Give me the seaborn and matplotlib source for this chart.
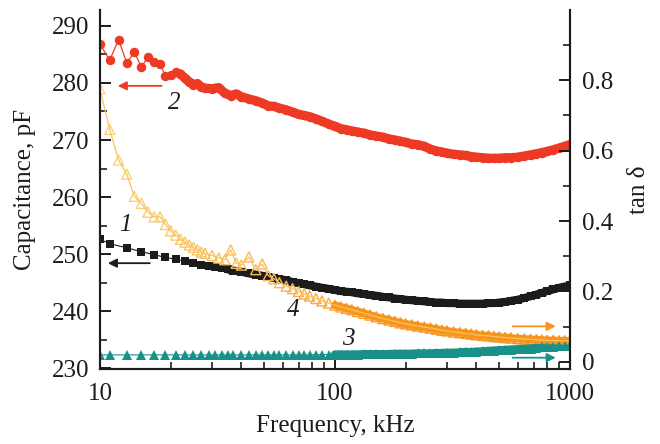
import numpy as np
import pandas as pd
import seaborn as sns
import matplotlib
matplotlib.use("Agg")
import matplotlib.pyplot as plt
from matplotlib.colors import LinearSegmentedColormap
from matplotlib.ticker import MultipleLocator, FixedLocator, NullFormatter

# ---------------- data ----------------
# frequency grid for curves 1 and 3 (kHz)
freq_a = [10, 11, 13, 15, 17, 19, 21, 23, 25, 27, 29, 31, 33, 35, 37, 40, 43, 46, 49,
          52, 55, 58, 62, 66, 70, 74, 78, 83, 88, 94, 100,
          106, 112, 118, 125, 133, 141, 150, 160, 170, 180, 190, 200, 212, 225, 240,
          255, 270, 285, 300, 320, 340, 360, 380, 400, 425, 450, 475, 500, 530, 560,
          600, 640, 680, 720, 760, 800, 850, 900, 950, 1000]
# curve 1: capacitance, pF (black squares)
cap_1 = [252.6, 251.8, 251.1, 250.4, 249.9, 249.4, 249.1, 248.7, 248.4, 248.1, 247.9,
         247.7, 247.5, 247.3, 247.1, 246.9, 246.6, 246.4, 246.2, 246.0, 245.8, 245.6,
         245.4, 245.1, 244.9, 244.7, 244.5, 244.3, 244.1, 243.9, 243.7,
         243.5, 243.4, 243.3, 243.1, 243.0, 242.8, 242.7, 242.5, 242.4, 242.2, 242.1,
         242.0, 241.9, 241.8, 241.7, 241.6, 241.5, 241.5, 241.4, 241.4, 241.3, 241.3,
         241.3, 241.3, 241.3, 241.4, 241.4, 241.5, 241.6, 241.8, 242.0, 242.3, 242.6,
         242.9, 243.2, 243.5, 243.8, 244.1, 244.3, 244.5]
# curve 3: tan delta (teal triangles)
tan_3 = [0.020, 0.020, 0.020, 0.020, 0.020, 0.020, 0.020, 0.020, 0.020, 0.020, 0.020,
         0.020, 0.020, 0.020, 0.020, 0.020, 0.020, 0.020, 0.020, 0.020, 0.020, 0.020,
         0.020, 0.020, 0.020, 0.020, 0.020, 0.020, 0.021, 0.021, 0.021,
         0.021, 0.021, 0.021, 0.021, 0.022, 0.022, 0.022, 0.022, 0.022, 0.023, 0.023,
         0.023, 0.023, 0.024, 0.024, 0.024, 0.025, 0.025, 0.026, 0.026, 0.027, 0.028,
         0.028, 0.029, 0.030, 0.031, 0.032, 0.033, 0.034, 0.035, 0.036, 0.037, 0.038,
         0.039, 0.041, 0.042, 0.043, 0.045, 0.046, 0.047]

# frequency grid for curves 2 and 4 (kHz)
freq_b = [10, 11, 12, 13, 14, 15, 16, 17, 18, 19, 20, 21, 22, 23, 24, 25, 26, 27, 28,
          30, 32, 34, 36, 38, 40, 43, 46, 49, 52, 55, 58, 62, 66, 70, 74, 78, 83, 88,
          94, 100,
          106, 112, 118, 125, 133, 141, 150, 160, 170, 180, 190, 200, 212, 225, 240,
          255, 270, 285, 300, 320, 340, 360, 380, 400, 425, 450, 475, 500, 530, 560,
          600, 640, 680, 720, 760, 800, 850, 900, 950, 1000]
# curve 2: capacitance, pF (red circles)
cap_2 = [286.8, 284.0, 287.6, 283.5, 285.4, 282.8, 284.5, 283.6, 283.3, 281.2, 281.4,
         281.9, 281.6, 280.8, 280.2, 279.7, 279.9, 279.3, 279.1, 279.0, 279.2, 278.2,
         277.8, 278.1, 277.6, 277.2, 276.9, 276.5, 276.0, 275.9, 275.6, 275.3, 274.9,
         274.5, 274.3, 274.1, 273.7, 273.3, 272.8, 272.4,
         272.0, 271.8, 271.6, 271.4, 271.2, 270.9, 270.7, 270.5, 270.2, 270.0, 269.8,
         269.6, 269.3, 269.2, 268.9, 268.4, 268.1, 267.9, 267.7, 267.5, 267.4, 267.3,
         267.1, 267.0, 266.9, 266.8, 266.8, 266.8, 266.9, 266.9, 267.0, 267.2, 267.4,
         267.6, 267.8, 268.0, 268.3, 268.6, 268.9, 269.2]
# curve 4: tan delta (orange open triangles)
tan_4 = [0.775, 0.660, 0.573, 0.533, 0.470, 0.450, 0.425, 0.412, 0.412, 0.390, 0.372,
         0.360, 0.348, 0.340, 0.332, 0.325, 0.318, 0.312, 0.308, 0.302, 0.295, 0.290,
         0.318, 0.280, 0.275, 0.298, 0.262, 0.278, 0.245, 0.236, 0.225, 0.215, 0.208,
         0.200, 0.193, 0.187, 0.180, 0.173, 0.167, 0.161,
         0.156, 0.152, 0.148, 0.143, 0.138, 0.133, 0.128, 0.123, 0.119, 0.115, 0.111,
         0.108, 0.105, 0.102, 0.099, 0.096, 0.093, 0.090, 0.088, 0.085, 0.083, 0.081,
         0.079, 0.077, 0.075, 0.074, 0.072, 0.071, 0.069, 0.068, 0.066, 0.065, 0.064,
         0.063, 0.062, 0.061, 0.061, 0.060, 0.060, 0.060]

curve_labels = ["1", "2", "3", "4"]
x_ticks = [10, 100, 1000]
x_ticklabels = ["10", "100", "1000"]
left_ticks = [230, 240, 250, 260, 270, 280, 290]
right_ticks = [0, 0.2, 0.4, 0.6, 0.8]
right_ticklabels = ["0", "0.2", "0.4", "0.6", "0.8"]

# ---------------- styling ----------------
BLACK = "#1c1c1c"
RED = "#ee3a24"
TEAL = "#17918a"
ORANGE = "#f7941d"
FS = 18

sns.set_style("ticks")
plt.rcParams["font.family"] = ["Liberation Serif", "DejaVu Serif"]
plt.rcParams["axes.linewidth"] = 1.5

df_a = pd.DataFrame({"f": freq_a, "cap": cap_1, "tan": tan_3})
df_b = pd.DataFrame({"f": freq_b, "cap": cap_2, "tan": tan_4})
df_b["lf"] = np.log10(df_b["f"])

fig = plt.figure(figsize=(6.6, 4.44), dpi=100)
ax = fig.add_axes([0.1515, 0.169, 0.712, 0.8085])
ax2 = ax.twinx()

band = dict(sort=False, solid_capstyle="round", solid_joinstyle="round")

# left axis: capacitance -- dense-measurement bands, then the markers
sns.lineplot(data=df_a[df_a["f"] >= 35], x="f", y="cap", ax=ax, color=BLACK, lw=5.8, **band)
sns.lineplot(data=df_b[df_b["f"] >= 22], x="f", y="cap", ax=ax, color=RED, lw=6.6, **band)
sns.lineplot(data=df_a, x="f", y="cap", ax=ax, color=BLACK, lw=0.8, sort=False,
             marker="s", markersize=5.4, markeredgewidth=0, markerfacecolor=BLACK)
sns.lineplot(data=df_b, x="f", y="cap", ax=ax, color=RED, lw=0.9, sort=False,
             marker="o", markersize=6.8, markeredgewidth=0, markerfacecolor=RED)

# right axis: tan delta
sns.lineplot(data=df_a[df_a["f"] >= 100], x="f", y="tan", ax=ax2, color=TEAL, lw=6.0, **band)
sns.lineplot(data=df_b[df_b["f"] >= 100], x="f", y="tan", ax=ax2, color=ORANGE, lw=5.6, **band)
sns.lineplot(data=df_a, x="f", y="tan", ax=ax2, color=TEAL, lw=0.8, sort=False,
             marker="^", markersize=6.8, markeredgewidth=0, markerfacecolor=TEAL)
sns.lineplot(data=df_b, x="f", y="tan", ax=ax2, color="#f6c65a", lw=0.9, sort=False)
cmap = LinearSegmentedColormap.from_list("orng", ["#f9d77a", "#f9b95a", ORANGE, ORANGE])
sns.scatterplot(data=df_b, x="f", y="tan", hue="lf", palette=cmap, ax=ax2,
                marker="^", s=52, legend=False)
coll = ax2.collections[-1]
fcs = coll.get_facecolors()
coll.set_edgecolors(fcs)
coll.set_facecolors("none")
coll.set_linewidths(1.0)

# axes
ax.set_xscale("log")
ax.set_xlim(10, 1000)
ax.set_ylim(229.85, 292.8)
ax2.set_ylim(-0.02, 0.999)

ax.xaxis.set_major_locator(FixedLocator(x_ticks))
ax.set_xticklabels(x_ticklabels)
ax.xaxis.set_minor_formatter(NullFormatter())
ax.set_yticks(left_ticks)
ax.yaxis.set_minor_locator(MultipleLocator(5))
ax2.set_yticks(right_ticks)
ax2.set_yticklabels(right_ticklabels)
ax2.yaxis.set_minor_locator(MultipleLocator(0.1))

for a in (ax, ax2):
    a.tick_params(which="major", direction="in", length=8, width=1.4, labelsize=FS,
                  colors=BLACK)
    a.tick_params(which="minor", direction="in", length=5, width=1.2, colors=BLACK)
    a.spines["top"].set_visible(False)
    for s in ("left", "right", "bottom"):
        a.spines[s].set_linewidth(1.5)
        a.spines[s].set_color(BLACK)
ax.tick_params(axis="y", which="both", right=False, pad=8)
ax.tick_params(axis="x", which="both", top=False, pad=10)
ax2.tick_params(axis="y", which="both", left=False, pad=9)

ax.set_xlabel("Frequency, kHz", fontsize=FS, labelpad=7, color=BLACK)
ax.set_ylabel("Capacitance, pF", fontsize=FS, labelpad=11, color=BLACK)
ax2.set_ylabel("tan δ", fontsize=FS, labelpad=10, color=BLACK, rotation=90)

# curve numbers
ax.text(12.8, 255.1, curve_labels[0], fontsize=FS, style="italic", ha="center", va="center", color=BLACK)
ax.text(20.8, 276.5, curve_labels[1], fontsize=FS, style="italic", ha="center", va="center", color=BLACK)
ax.text(114, 235.1, curve_labels[2], fontsize=FS, style="italic", ha="center", va="center", color=BLACK)
ax.text(66.5, 240.2, curve_labels[3], fontsize=FS, style="italic", ha="center", va="center", color=BLACK)

# arrows pointing to the relevant axis
def arrow(a, x0, x1, y, c):
    a.annotate("", xy=(x1, y), xytext=(x0, y),
               arrowprops=dict(arrowstyle="-|>", color=c, lw=1.3, mutation_scale=13,
                               shrinkA=0, shrinkB=0))

arrow(ax, 16.3, 10.8, 248.4, BLACK)
arrow(ax, 18.3, 11.9, 279.5, RED)
arrow(ax2, 570, 870, 0.101, ORANGE)
arrow(ax2, 570, 870, 0.012, TEAL)

fig.savefig("out.png", dpi=100)
